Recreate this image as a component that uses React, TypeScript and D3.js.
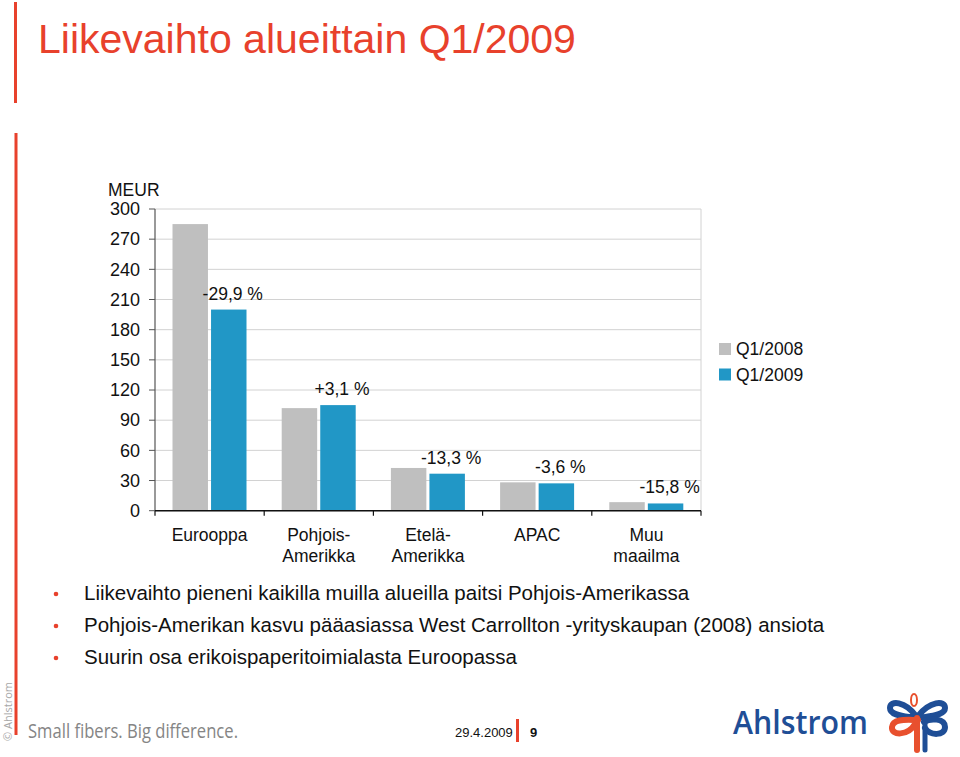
import React from "react";
import * as d3 from "d3";

const categories: string[][] = [["Eurooppa"], ["Pohjois-", "Amerikka"], ["Etelä-", "Amerikka"], ["APAC"], ["Muu", "maailma"]];
const seriesNames = ["Q1/2008", "Q1/2009"];
const q12008 = [285, 102, 42.5, 28.2, 8.5];
const q12009 = [200, 105, 36.8, 27.2, 7.2];
const changeLabels = ["-29,9 %", "+3,1 %", "-13,3 %", "-3,6 %", "-15,8 %"];
const yTicks = [0, 30, 60, 90, 120, 150, 180, 210, 240, 270, 300];
const bullets = [
  "Liikevaihto pieneni kaikilla muilla alueilla paitsi Pohjois-Amerikassa",
  "Pohjois-Amerikan kasvu pääasiassa West Carrollton -yrityskaupan (2008) ansiota",
  "Suurin osa erikoispaperitoimialasta Euroopassa",
];

const GRAY = "#bfbfbf";
const BLUE = "#2197c6";
const RED = "#e8412c";
const FONT = "'Liberation Sans', Arial, Helvetica, sans-serif";

export default function App() {
  const left = 155, right = 701, top = 209, bottom = 510.7;
  const x = d3.scaleBand<number>().domain(d3.range(categories.length)).range([left, right]).padding(0);
  const inner = d3.scaleBand<string>().domain(seriesNames).range([17.5, 91.5]).paddingInner(0.08);
  const y = d3.scaleLinear().domain([0, 300]).range([bottom, top]);
  const colors = [GRAY, BLUE];
  const values = [q12008, q12009];
  const fs = 17.5;

  return (
    <svg width={960} height={757} style={{ position: "absolute", left: 0, top: 0, background: "#fff" }} fontFamily={FONT}>
      <rect x={0} y={0} width={960} height={757} fill="#fff" />
      {/* red decorative lines */}
      <rect x={14} y={2} width={3} height={101} fill={RED} />
      <rect x={14.5} y={133} width={3} height={602} fill={RED} />
      <text x={38} y={53} fontSize={41} fill={RED}>Liikevaihto alueittain Q1/2009</text>

      {/* gridlines */}
      {yTicks.map((t) => (
        <line key={"g" + t} x1={left} x2={right} y1={y(t)} y2={y(t)} stroke="#d2d2d2" strokeWidth={1} />
      ))}
      <line x1={right} x2={right} y1={top} y2={bottom} stroke="#d2d2d2" />
      {/* y axis */}
      <line x1={left} x2={left} y1={top} y2={bottom} stroke="#555" strokeWidth={1.2} />
      {yTicks.map((t) => (
        <g key={"t" + t}>
          <line x1={left - 6} x2={left} y1={y(t)} y2={y(t)} stroke="#555" />
          <text x={140} y={y(t)} dy="0.35em" textAnchor="end" fontSize={18} fill="#111">{t}</text>
        </g>
      ))}
      <text x={108} y={196} fontSize={fs} fill="#111">MEUR</text>

      {/* bars */}
      {values.map((vals, si) =>
        vals.map((v, i) => (
          <rect key={`b${si}-${i}`} x={(x(i) as number) + (inner(seriesNames[si]) as number)} y={y(v)} width={inner.bandwidth()} height={y(0) - y(v)} fill={colors[si]} />
        ))
      )}
      {/* change labels */}
      {changeLabels.map((l, i) => (
        <text key={"c" + i} x={(x(i) as number) + (inner(seriesNames[1]) as number) + inner.bandwidth() / 2 + 4} y={y(q12009[i]) - 10} textAnchor="middle" fontSize={fs} fill="#111">{l}</text>
      ))}

      {/* x axis */}
      <line x1={left} x2={right} y1={bottom} y2={bottom} stroke="#111" strokeWidth={1.4} />
      {d3.range(categories.length + 1).map((i) => {
        const xx = i < categories.length ? (x(i) as number) : right;
        return <line key={"xt" + i} x1={xx} x2={xx} y1={bottom} y2={bottom + 5} stroke="#111" strokeWidth={1.2} />;
      })}
      {categories.map((lines, i) => (
        <text key={"cat" + i} textAnchor="middle" fontSize={fs} fill="#111">
          {lines.map((ln, j) => (
            <tspan key={j} x={(x(i) as number) + x.bandwidth() / 2} y={541 + j * 21}>{ln}</tspan>
          ))}
        </text>
      ))}

      {/* legend */}
      {seriesNames.map((s, i) => (
        <g key={"lg" + i}>
          <rect x={719} y={343 + i * 25.5} width={12} height={12} fill={colors[i]} />
          <text x={736} y={355 + i * 25.5} fontSize={fs} fill="#111">{s}</text>
        </g>
      ))}

      {/* bullets */}
      {bullets.map((b, i) => (
        <g key={"bl" + i}>
          <circle cx={56} cy={594 + i * 32} r={2.3} fill={RED} />
          <text x={84} y={600 + i * 32} fontSize={20.5} fill="#111">{b}</text>
        </g>
      ))}

      {/* footer */}
      <text transform="translate(12,741) rotate(-90)" fontSize={11} fill="#a8a8a8" fontFamily="'Open Sans', sans-serif">© Ahlstrom</text>
      <text x={28} y={738} fontSize={20} fill="#858585" fontFamily="'Open Sans', sans-serif" textLength={210} lengthAdjust="spacingAndGlyphs">Small fibers. Big difference.</text>
      <text x={455} y={737} fontSize={13} fill="#111">29.4.2009</text>
      <rect x={516} y={719} width={3} height={23} fill={RED} />
      <text x={530} y={737} fontSize={13} fontWeight="bold" fill="#111">9</text>

      {/* logo */}
      <text x={733} y={734} fontSize={32} fontWeight={600} fill="#1f4e96" fontFamily="'Open Sans', sans-serif" textLength={135} lengthAdjust="spacingAndGlyphs">Ahlstrom</text>
      <g fill="none" strokeLinecap="round">
        <ellipse cx={914} cy={700} rx={3} ry={6} stroke="#e8502e" strokeWidth={2} />
        <path d="M916,718 C905,716 890,716 890,708 C890,700 905,701 916,716" stroke="#1f4e96" strokeWidth={6} />
        <path d="M918,718 C928,716 945,716 945,708 C945,700 930,701 918,716" stroke="#1f4e96" strokeWidth={6} />
        <path d="M918,720 C908,720 893,718 892,727 C891,736 908,736 915,724" stroke="#e8502e" strokeWidth={6} />
        <path d="M924,722 C930,718 945,718 945,727 C945,736 930,736 925,728" stroke="#1f4e96" strokeWidth={6} />
        <line x1={917} y1={718} x2={917} y2={750} stroke="#e8502e" strokeWidth={6} />
        <line x1={925} y1={720} x2={925} y2={750} stroke="#1f4e96" strokeWidth={5} />
      </g>
    </svg>
  );
}
